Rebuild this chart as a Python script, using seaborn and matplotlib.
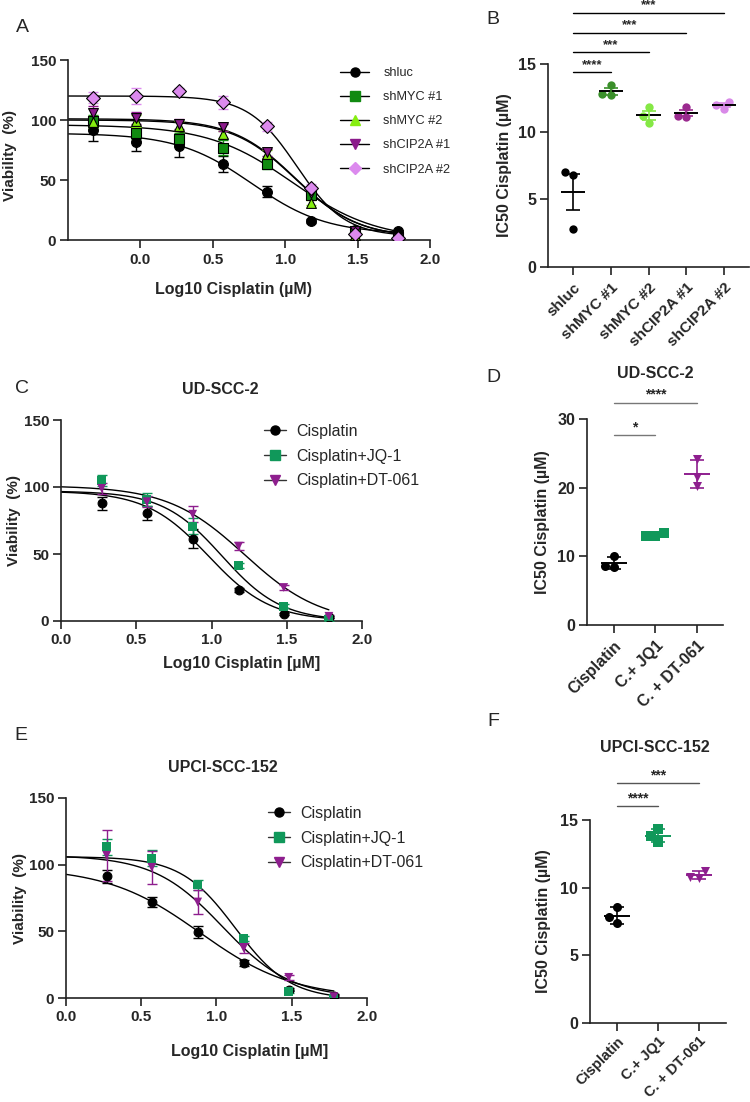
import numpy as np
import pandas as pd
import matplotlib
matplotlib.use("Agg")
import matplotlib.pyplot as plt
from matplotlib.lines import Line2D
import seaborn as sns

sns.set_theme(style="ticks")
plt.rcParams['font.family'] = ['Liberation Sans', 'DejaVu Sans']

# ---------------- data ----------------
# Panel A (dose-response, shRNA lines)
logdose_A = [-0.33, -0.03, 0.27, 0.57, 0.875, 1.18, 1.48, 1.78]
groups_A = ["shluc", "shMYC #1", "shMYC #2", "shCIP2A #1", "shCIP2A #2"]
via_shluc = [91.7, 82, 78.6, 63.3, 40.3, 16, 8.3, 7.2]
via_shMYC1 = [99, 89, 84, 77, 63, 37.5, 7.8, 2.2]
via_shMYC2 = [98, 99.4, 95, 88, 71.7, 31, 4, 2]
via_shCIP1 = [106, 102, 96.7, 94, 73, 39.4, 7.8, 2]
via_shCIP2 = [118.5, 120, 124.4, 114.7, 94.7, 43.3, 5, 2]
err_shluc = [9.5, 8, 9.5, 7, 4.5, 1.5, 1, 1]
err_shMYC1 = [5, 5, 5, 6, 4, 3, 1, 1]
err_shMYC2 = [5, 5, 4, 3, 3, 2, 1, 1]
err_shCIP1 = [6, 5, 4, 3, 3, 2, 1, 1]
err_shCIP2 = [4.5, 7, 2, 5.5, 4, 3, 1, 1]
# 4PL fit parameters (top, bottom, logIC50, hill)
fit_top_A = [89, 96, 100, 101, 120]
fit_bot_A = [5, 0, 2, 2, 3]
fit_logic50_A = [0.77, 1.05, 1.07, 1.07, 1.08]
fit_hill_A = [1.7, 1.5, 2.0, 2.0, 2.6]

# Panel B (IC50 per replicate)
ic50_B_shluc = [7.0, 6.8, 2.84]
ic50_B_shMYC1 = [13.48, 12.7, 12.75]
ic50_B_shMYC2 = [11.8, 10.67, 11.16]
ic50_B_shCIP1 = [11.8, 11.1, 11.15]
ic50_B_shCIP2 = [12.2, 11.7, 12.0]
sig_B_labels = ["****", "***", "***", "***"]
sig_B_levels = [14.4, 15.85, 17.3, 18.8]

# Panel C (UD-SCC-2)
logdose_CE = [0.27, 0.57, 0.875, 1.18, 1.48, 1.78]
treat = ["Cisplatin", "Cisplatin+JQ-1", "Cisplatin+DT-061"]
via_C_cis = [87.7, 80.7, 61.5, 23, 5.2, 3]
via_C_jq1 = [104.6, 90.7, 70.8, 41.6, 11, 1]
via_C_dt = [99, 89, 79.7, 55.8, 25, 3.5]
err_C_cis = [5, 5, 7, 1.5, 1, 1]
err_C_jq1 = [4, 5, 6, 2, 1.5, 1]
err_C_dt = [4, 4, 6, 3, 2, 1]
fit_top_C = [97, 97, 101]
fit_bot_C = [0, 0, -2]
fit_logic50_C = [0.98, 1.07, 1.22]
fit_hill_C = [2.1, 2.2, 1.7]

# Panel D (UD-SCC-2 IC50)
groups_DF = ["Cisplatin", "C.+ JQ1", "C. + DT-061"]
ic50_D_cis = [10.1, 8.4, 8.6]
ic50_D_jq1 = [12.9, 13.4, 12.95]
ic50_D_dt = [24.2, 21.6, 20.2]
sig_D_labels = ["*", "****"]
sig_D_levels = [27.6, 32.4]

# Panel E (UPCI-SCC-152)
via_E_cis = [91.3, 72, 49.5, 26.3, 6.3, 1.8]
via_E_jq1 = [113.5, 104.8, 84.8, 44.8, 5, 0]
via_E_dt = [107, 98, 72, 37.5, 15.5, 1]
err_E_cis = [5, 4, 4.5, 2, 1, 1]
err_E_jq1 = [6, 6, 4, 2, 1, 1]
err_E_dt = [19, 12.5, 9, 4, 2, 1]
fit_top_E = [98, 106, 107]
fit_bot_E = [0, -1, 0]
fit_logic50_E = [0.89, 1.125, 1.04]
fit_hill_E = [1.4, 2.4, 1.9]

# Panel F (UPCI-SCC-152 IC50)
ic50_F_cis = [8.6, 7.4, 7.8]
ic50_F_jq1 = [14.3, 13.4, 13.85]
ic50_F_dt = [11.26, 10.75, 10.8]
sig_F_labels = ["****", "***"]
sig_F_levels = [16.0, 17.7]

# ---------------- style ----------------
col_A = ["black", "#118a11", "#86ee10", "#8b1a8b", "#dc8aee"]
mark_A = ["o", "s", "^", "v", "D"]
col_B = ["black", "#3a8f2a", "#85e845", "#9b2a8f", "#d98ae8"]
col_T = ["black", "#10985a", "#8e1e8e"]
mark_T = ["o", "s", "v"]

W, H = 750, 1102
fig = plt.figure(figsize=(W / 100, H / 100), dpi=100)


def rect(l, t, r, b):
    return [l / W, 1 - b / H, (r - l) / W, (b - t) / H]


def style_axes(ax, tick_fs):
    for s in ["top", "right"]:
        ax.spines[s].set_visible(False)
    for s in ["left", "bottom"]:
        ax.spines[s].set_linewidth(1.2)
        ax.spines[s].set_color("#222222")
    ax.tick_params(axis="both", length=5.5, width=1.2, color="#222222",
                   labelsize=tick_fs, pad=3, direction="out")
    for lab in ax.get_xticklabels() + ax.get_yticklabels():
        lab.set_fontweight("bold")


def four_pl(x, top, bot, logic50, hill):
    return bot + (top - bot) / (1 + 10 ** (hill * (x - logic50)))


def dose_panel(ax, xdat, ys, errs, tops, bots, lics, hills, cols, marks,
               xmin_curve, edge, msize):
    xs = np.linspace(xmin_curve, xdat[-1], 300)
    for i in range(len(ys)):
        sns.lineplot(x=xs, y=four_pl(xs, tops[i], bots[i], lics[i], hills[i]),
                     color="black", lw=1.0, ax=ax, zorder=2)
    for i in range(len(ys)):
        ax.errorbar(xdat, ys[i], yerr=errs[i], fmt="none", ecolor=cols[i],
                    elinewidth=1.0, capsize=3.5, capthick=1.0, zorder=3)
        sns.scatterplot(x=xdat, y=ys[i], color=cols[i], marker=marks[i],
                        s=msize, edgecolor=edge if i > 0 else "black",
                        linewidth=0.8, ax=ax, zorder=4 + i)


def ic50_panel(ax, groups, vals, cols, marks, err_kind, mean_cols, size):
    for i, g in enumerate(groups):
        d = pd.DataFrame({"group": [g] * len(vals[i]), "ic50": vals[i]})
        sns.swarmplot(data=d, x="group", y="ic50", order=groups, color=cols[i],
                      marker=marks[i], size=size, linewidth=0, ax=ax, zorder=4)
    for i, g in enumerate(groups):
        v = np.array(vals[i])
        m = v.mean()
        e = v.std(ddof=1)
        if err_kind == "sem":
            e = e / np.sqrt(len(v))
        ax.hlines(m, i - 0.32, i + 0.32, color=mean_cols[i], lw=1.4, zorder=5)
        ax.errorbar([i], [m], yerr=[e], fmt="none", ecolor=cols[i],
                    elinewidth=1.2, capsize=5, capthick=1.2, zorder=5)


def sig_bars(ax, pairs, levels, labels, color, fs):
    for (a, b), lev, lab in zip(pairs, levels, labels):
        ax.plot([a, b], [lev, lev], color=color, lw=1.0, clip_on=False)
        ax.text((a + b) / 2, lev + 0.006 * (ax.get_ylim()[1]), lab,
                ha="center", va="bottom", fontsize=fs, fontweight="bold",
                clip_on=False)


TICK_DOSE = 11
TICK_IC = 11.5
LAB = 11.5
LEG = 11.5
TITLE = 11.5

# ---------------- Panel A ----------------
axA = fig.add_axes(rect(68, 60, 430, 240))
dose_panel(axA, logdose_A,
           [via_shluc, via_shMYC1, via_shMYC2, via_shCIP1, via_shCIP2],
           [err_shluc, err_shMYC1, err_shMYC2, err_shCIP1, err_shCIP2],
           fit_top_A, fit_bot_A, fit_logic50_A, fit_hill_A, col_A, mark_A,
           -0.5, "black", 50)
axA.set_xlim(-0.5, 2.0)
axA.set_ylim(0, 150)
axA.set_xticks([0.0, 0.5, 1.0, 1.5, 2.0])
axA.set_xticklabels(["0.0", "0.5", "1.0", "1.5", "2.0"])
axA.set_yticks([0, 50, 100, 150])
style_axes(axA, TICK_DOSE)
axA.tick_params(axis="x", pad=4)
axA.set_xlabel("Log10 Cisplatin (µM)", fontsize=LAB, fontweight="bold")
axA.set_ylabel("Viability  (%)", fontsize=11, fontweight="bold")
axA.xaxis.set_label_coords(0.456, -0.235)
axA.yaxis.set_label_coords(-0.142, 0.47)
hA = [Line2D([0], [0], color="black", lw=1.0, marker=mark_A[i],
             markerfacecolor=col_A[i], markeredgecolor=col_A[i], markersize=6.5)
      for i in range(5)]
fig.legend(hA, groups_A, loc="upper left", bbox_to_anchor=(340 / W, 1 - 67 / H),
           bbox_transform=fig.transFigure, frameon=False, fontsize=9.2,
           handlelength=2.3, handletextpad=1.1, labelspacing=0.95,
           borderpad=0, borderaxespad=0)

# ---------------- Panel B ----------------
axB = fig.add_axes(rect(548, 64, 749, 267))
ic50_panel(axB, groups_A,
           [ic50_B_shluc, ic50_B_shMYC1, ic50_B_shMYC2, ic50_B_shCIP1, ic50_B_shCIP2],
           col_B, ["o"] * 5, "sem", ["black"] * 5, 6.0)
axB.set_xlim(-0.66, 4.66)
axB.set_ylim(0, 15)
axB.set_yticks([0, 5, 10, 15])
style_axes(axB, TICK_IC)
axB.set_xticks(range(5))
axB.set_xticklabels(groups_A, rotation=45, ha="right", rotation_mode="anchor",
                    fontsize=11, fontweight="bold")
axB.tick_params(axis="x", pad=4)
axB.set_xlabel("")
axB.set_ylabel("IC50 Cisplatin (µM)", fontsize=LAB, fontweight="bold")
axB.yaxis.set_label_coords(-0.178, 0.5)
sig_bars(axB, [(0, 1), (0, 2), (0, 3), (0, 4)], sig_B_levels, sig_B_labels,
         "black", 9.5)

# ---------------- Panel C ----------------
axC = fig.add_axes(rect(61, 420, 362, 621))
dose_panel(axC, logdose_CE, [via_C_cis, via_C_jq1, via_C_dt],
           [err_C_cis, err_C_jq1, err_C_dt],
           fit_top_C, fit_bot_C, fit_logic50_C, fit_hill_C, col_T, mark_T,
           0.0, "none", 40)
axC.set_xlim(0, 2.0)
axC.set_ylim(0, 150)
axC.set_xticks([0.0, 0.5, 1.0, 1.5, 2.0])
axC.set_xticklabels(["0.0", "0.5", "1.0", "1.5", "2.0"])
axC.set_yticks([0, 50, 100, 150])
style_axes(axC, TICK_DOSE)
axC.set_xlabel("Log10 Cisplatin [µM]", fontsize=LAB, fontweight="bold")
axC.set_ylabel("Viability  (%)", fontsize=11, fontweight="bold")
axC.xaxis.set_label_coords(0.60, -0.172)
axC.yaxis.set_label_coords(-0.133, 0.5)
hT = [Line2D([0], [0], color="#333333", lw=1.0, marker=mark_T[i],
             markerfacecolor=col_T[i], markeredgecolor=col_T[i], markersize=6.5)
      for i in range(3)]
fig.legend(hT, treat, loc="upper left", bbox_to_anchor=(264 / W, 1 - 424 / H),
           bbox_transform=fig.transFigure, frameon=False, fontsize=LEG,
           handlelength=1.4, handletextpad=0.65, labelspacing=0.6,
           borderpad=0, borderaxespad=0)

# ---------------- Panel D ----------------
axD = fig.add_axes(rect(587, 419, 723, 625))
ic50_panel(axD, groups_DF, [ic50_D_cis, ic50_D_jq1, ic50_D_dt], col_T, mark_T,
           "sd", col_T, 6.5)
axD.set_xlim(-0.65, 2.63)
axD.set_ylim(0, 30)
axD.set_yticks([0, 10, 20, 30])
style_axes(axD, TICK_IC)
axD.set_xticks(range(3))
axD.set_xticklabels(groups_DF, rotation=45, ha="right", rotation_mode="anchor",
                    fontsize=11.5, fontweight="bold")
axD.tick_params(axis="x", pad=4)
axD.set_xlabel("")
axD.set_ylabel("IC50 Cisplatin (µM)", fontsize=LAB, fontweight="bold")
axD.yaxis.set_label_coords(-0.27, 0.5)
sig_bars(axD, [(0, 1), (0, 2)], sig_D_levels, sig_D_labels, "#777777", 10)

# ---------------- Panel E ----------------
axE = fig.add_axes(rect(66, 798, 367, 998))
dose_panel(axE, logdose_CE, [via_E_cis, via_E_jq1, via_E_dt],
           [err_E_cis, err_E_jq1, err_E_dt],
           fit_top_E, fit_bot_E, fit_logic50_E, fit_hill_E, col_T, mark_T,
           0.0, "none", 40)
axE.set_xlim(0, 2.0)
axE.set_ylim(0, 150)
axE.set_xticks([0.0, 0.5, 1.0, 1.5, 2.0])
axE.set_xticklabels(["0.0", "0.5", "1.0", "1.5", "2.0"])
axE.set_yticks([0, 50, 100, 150])
style_axes(axE, TICK_DOSE)
axE.set_xlabel("Log10 Cisplatin [µM]", fontsize=LAB, fontweight="bold")
axE.set_ylabel("Viability  (%)", fontsize=11, fontweight="bold")
axE.xaxis.set_label_coords(0.61, -0.232)
axE.yaxis.set_label_coords(-0.13, 0.5)
fig.legend(hT, treat, loc="upper left", bbox_to_anchor=(268 / W, 1 - 806 / H),
           bbox_transform=fig.transFigure, frameon=False, fontsize=LEG,
           handlelength=1.4, handletextpad=0.65, labelspacing=0.6,
           borderpad=0, borderaxespad=0)

# ---------------- Panel F ----------------
axF = fig.add_axes(rect(590, 820, 726, 1023))
ic50_panel(axF, groups_DF, [ic50_F_cis, ic50_F_jq1, ic50_F_dt], col_T, mark_T,
           "sd", col_T, 6.5)
axF.set_xlim(-0.66, 2.66)
axF.set_ylim(0, 15)
axF.set_yticks([0, 5, 10, 15])
style_axes(axF, TICK_IC)
axF.set_xticks(range(3))
axF.set_xticklabels(groups_DF, rotation=45, ha="right", rotation_mode="anchor",
                    fontsize=10.5, fontweight="bold")
axF.tick_params(axis="x", pad=2.5)
axF.set_xlabel("")
axF.set_ylabel("IC50 Cisplatin (µM)", fontsize=LAB, fontweight="bold")
axF.yaxis.set_label_coords(-0.287, 0.5)
sig_bars(axF, [(0, 1), (0, 2)], sig_F_levels, sig_F_labels, "#555555", 10)

# ---------------- titles & panel letters ----------------
def ftext(x, y, s, **kw):
    fig.text(x / W, 1 - y / H, s, **kw)

ftext(220, 390, "UD-SCC-2", ha="center", va="center", fontsize=TITLE, fontweight="bold")
ftext(655, 374, "UD-SCC-2", ha="center", va="center", fontsize=TITLE, fontweight="bold")
ftext(223, 768, "UPCI-SCC-152", ha="center", va="center", fontsize=TITLE, fontweight="bold")
ftext(655, 748, "UPCI-SCC-152", ha="center", va="center", fontsize=TITLE, fontweight="bold")

for lab, x, y in [("A", 22, 28), ("B", 493, 20), ("C", 22, 388),
                  ("D", 493, 378), ("E", 21, 736), ("F", 493, 722)]:
    ftext(x, y, lab, ha="center", va="center", fontsize=14)

fig.savefig("out.png", dpi=100)
